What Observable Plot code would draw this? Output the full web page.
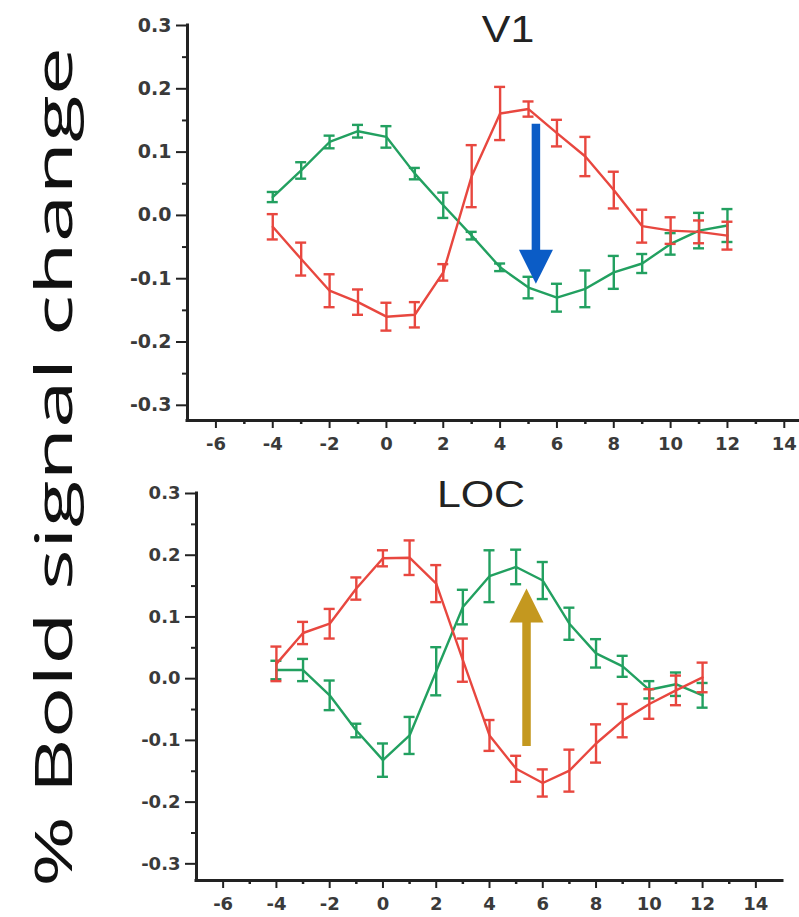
<!DOCTYPE html>
<html>
<head>
<meta charset="utf-8">
<script src="https://cdn.jsdelivr.net/npm/d3@7"></script>
<script src="https://cdn.jsdelivr.net/npm/@observablehq/plot@0.6"></script>
<style>
  html, body { margin: 0; padding: 0; background: #fff; }
  #wrap { position: relative; width: 799px; height: 917px; overflow: hidden; }
  #wrap > svg { position: absolute; left: 0; }
</style>
</head>
<body>
<div id="wrap"></div>
<script>
// ---------- data ----------
const times = [-4, -3, -2, -1, 0, 1, 2, 3, 4, 5, 6, 7, 8, 9, 10, 11, 12];

const v1Green    = [0.029, 0.071, 0.116, 0.133, 0.124, 0.066, 0.016, -0.032, -0.082, -0.114, -0.130, -0.116, -0.090, -0.076, -0.045, -0.024, -0.016];
const v1GreenErr = [0.008, 0.013, 0.010, 0.010, 0.017, 0.009, 0.020, 0.006, 0.006, 0.017, 0.022, 0.029, 0.026, 0.015, 0.017, 0.028, 0.026];
const v1Red      = [-0.018, -0.069, -0.119, -0.137, -0.160, -0.157, -0.090, 0.062, 0.161, 0.168, 0.130, 0.093, 0.040, -0.017, -0.024, -0.026, -0.032];
const v1RedErr   = [0.020, 0.026, 0.026, 0.020, 0.022, 0.020, 0.013, 0.049, 0.042, 0.012, 0.021, 0.031, 0.029, 0.026, 0.021, 0.018, 0.022];

const locRed      = [0.024, 0.074, 0.089, 0.146, 0.195, 0.196, 0.154, 0.030, -0.092, -0.146, -0.169, -0.149, -0.105, -0.068, -0.041, -0.019, 0.002];
const locRedErr   = [0.028, 0.018, 0.024, 0.018, 0.013, 0.028, 0.030, 0.035, 0.025, 0.021, 0.022, 0.034, 0.031, 0.027, 0.024, 0.024, 0.024];
const locGreen    = [0.014, 0.014, -0.027, -0.084, -0.132, -0.092, 0.012, 0.116, 0.166, 0.181, 0.159, 0.089, 0.041, 0.020, -0.018, -0.009, -0.027];
const locGreenErr = [0.015, 0.018, 0.024, 0.011, 0.027, 0.030, 0.039, 0.028, 0.042, 0.028, 0.030, 0.026, 0.023, 0.017, 0.014, 0.019, 0.020];

// arrows: x position, start value, tip value
const v1Arrow  = {x: 5.26, from: 0.144, to: -0.108};
const locArrow = {x: 5.39, from: -0.110, to: 0.146};

const xMajorTicks = [-6, -4, -2, 0, 2, 4, 6, 8, 10, 12, 14];
const xMinorTicks = [-5, -3, -1, 1, 3, 5, 7, 9, 11, 13];
const yMajorTicks = [-0.3, -0.2, -0.1, 0, 0.1, 0.2, 0.3];
const yMinorTicks = [-0.25, -0.15, -0.05, 0.05, 0.15, 0.25];

const titles = ["V1", "LOC"];
const yLabel = "% Bold signal change";

// ---------- style ----------
const RED = "#e8473f";
const GREEN = "#22a060";
const BLUE = "#0b5cc6";
const GOLD = "#c4981f";
const INK = "#222";
const TXT = "#3a3a3a";

function rows(values, errors) {
  return times.map((t, i) => ({t, v: values[i], e: errors[i]}));
}

const headShape = {
  draw(context, l) {
    const w = 17;
    context.moveTo(0, -l);
    context.lineTo(w, 0);
    context.lineTo(-w, 0);
    context.closePath();
  }
};

function seriesMarks(data, color) {
  const sw = 2.4;
  return [
    Plot.ruleX(data, {x: "t", y1: d => d.v - d.e, y2: d => d.v + d.e, stroke: color, strokeWidth: sw}),
    Plot.ruleY(data, {x1: "t", x2: "t", y: d => d.v + d.e, insetLeft: -5.5, insetRight: -5.5, stroke: color, strokeWidth: sw}),
    Plot.ruleY(data, {x1: "t", x2: "t", y: d => d.v - d.e, insetLeft: -5.5, insetRight: -5.5, stroke: color, strokeWidth: sw}),
    Plot.line(data, {x: "t", y: "v", stroke: color, strokeWidth: sw})
  ];
}

function arrowMarks(a, color) {
  const down = a.to < a.from;
  const hi = Math.max(a.from, a.to), lo = Math.min(a.from, a.to);
  return [
    Plot.ruleX([a], {x: "x", y1: () => hi, y2: () => lo, stroke: color, strokeWidth: 8.5,
      strokeLinecap: "butt", insetBottom: down ? 26 : 0, insetTop: down ? 0 : 26}),
    Plot.vector([a], {x: "x", y: "to", length: 34, rotate: down ? 180 : 0, anchor: "end",
      shape: headShape, fill: color, stroke: "none", strokeWidth: 0})
  ];
}

function panel(cfg) {
  return Plot.plot({
    width: 799,
    height: cfg.height,
    marginTop: cfg.marginTop,
    marginBottom: cfg.marginBottom,
    marginLeft: cfg.marginLeft,
    marginRight: cfg.marginRight,
    x: {domain: cfg.xDomain, label: null},
    y: {domain: cfg.yDomain, label: null},
    style: {background: "transparent", overflow: "visible", fontFamily: "DejaVu Sans", fontSize: "18px", fontWeight: "bold", color: TXT},
    marks: [
      Plot.axisY({ticks: yMinorTicks, tickSize: 5, tickFormat: () => "", stroke: INK, strokeWidth: 2, label: null}),
      Plot.axisY({ticks: yMajorTicks, tickSize: 11, tickPadding: 5, tickFormat: d => d.toFixed(1),
        stroke: INK, strokeWidth: 2, fill: TXT, fontSize: cfg.yFont, label: null}),
      Plot.axisX({ticks: xMinorTicks, tickSize: 4, tickFormat: () => "", stroke: INK, strokeWidth: 2.5, label: null}),
      Plot.axisX({ticks: xMajorTicks, tickSize: 8, tickPadding: cfg.xPad, tickFormat: d => String(d),
        stroke: INK, strokeWidth: 2, fill: TXT, fontSize: 18, label: null}),
      Plot.ruleX([cfg.xDomain[0]], {stroke: INK, strokeWidth: 3, strokeLinecap: "square"}),
      Plot.ruleY([cfg.yDomain[0]], {stroke: INK, strokeWidth: 3, strokeLinecap: "square"}),
      ...seriesMarks(cfg.green, GREEN),
      ...seriesMarks(cfg.red, RED),
      ...arrowMarks(cfg.arrow, cfg.arrowColor)
    ]
  });
}

const wrap = document.getElementById("wrap");

const topPanel = panel({
  height: 460, marginTop: 25, marginBottom: 40, marginLeft: 187, marginRight: 1,
  xDomain: [-7, 14.5], yDomain: [-0.324, 0.3], xPad: 9, yFont: 19,
  green: rows(v1Green, v1GreenErr), red: rows(v1Red, v1RedErr),
  arrow: v1Arrow, arrowColor: BLUE
});
topPanel.style.top = "0px";
wrap.appendChild(topPanel);

const bottomPanel = panel({
  height: 457, marginTop: 33, marginBottom: 37, marginLeft: 196, marginRight: 17,
  xDomain: [-7, 15], yDomain: [-0.327, 0.3], xPad: 9, yFont: 18,
  green: rows(locGreen, locGreenErr), red: rows(locRed, locRedErr),
  arrow: locArrow, arrowColor: GOLD
});
bottomPanel.style.top = "460px";
wrap.appendChild(bottomPanel);

// overlay: panel titles and the shared y label
const overlay = d3.create("svg").attr("width", 799).attr("height", 917).style("top", "0px");
overlay.append("text").text(titles[0])
  .attr("transform", "translate(508,42) scale(1.16,1)")
  .attr("text-anchor", "middle").attr("font-family", "Liberation Sans, Arial, sans-serif")
  .attr("font-size", 37).attr("fill", INK);
overlay.append("text").text(titles[1])
  .attr("transform", "translate(481,507) scale(1.16,1)")
  .attr("text-anchor", "middle").attr("font-family", "Liberation Sans, Arial, sans-serif")
  .attr("font-size", 37).attr("fill", INK);
overlay.append("text").text(yLabel)
  .attr("transform", "translate(72,467) rotate(-90)")
  .attr("text-anchor", "middle").attr("font-family", "Open Sans, Noto Sans, sans-serif")
  .attr("font-size", 52).attr("fill", "#111")
  .attr("textLength", 840).attr("lengthAdjust", "spacingAndGlyphs");
wrap.appendChild(overlay.node());
</script>
</body>
</html>
